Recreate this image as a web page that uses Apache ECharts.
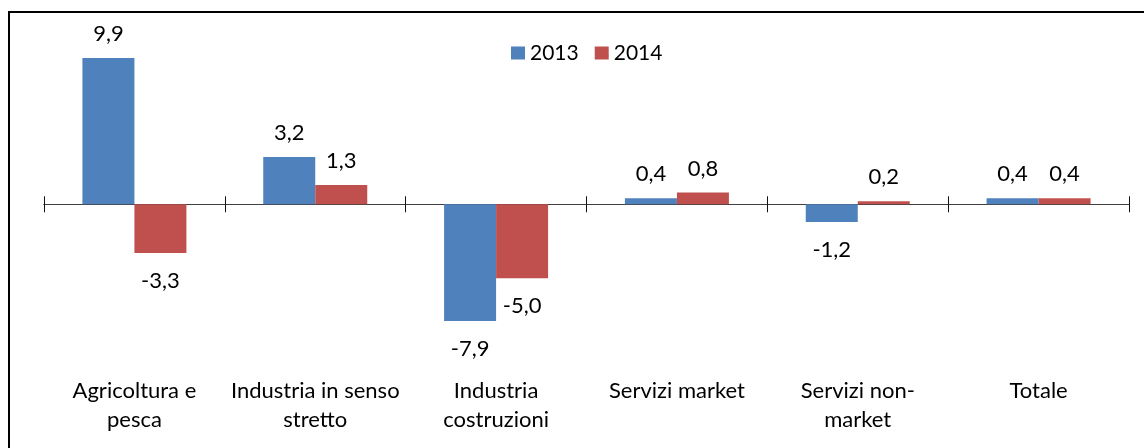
<!DOCTYPE html>
<html>
<head>
<meta charset="utf-8">
<script src="https://cdn.jsdelivr.net/npm/echarts@6/dist/echarts.min.js"></script>
<style>
html,body{margin:0;padding:0;background:#fff;}
#chart{width:1144px;height:448px;}
</style>
</head>
<body>
<div id="chart"></div>
<script>
const categories = ['Agricoltura e\npesca', 'Industria in senso\nstretto', 'Industria\ncostruzioni', 'Servizi market', 'Servizi non-\nmarket', 'Totale'];
const seriesNames = ['2013', '2014'];
const values2013 = [9.9, 3.2, -7.9, 0.4, -1.2, 0.4];
const values2014 = [-3.3, 1.3, -5.0, 0.8, 0.2, 0.4];

const FONT = 'Lato';
const chart = echarts.init(document.getElementById('chart'), null, {renderer: 'canvas'});
const fmt = p => p.value.toFixed(1).replace('.', ',');
function labelFor(v) {
  return {
    show: true,
    position: v >= 0 ? 'top' : 'bottom',
    distance: v >= 0 ? 13 : 17,
    formatter: fmt,
    fontFamily: FONT, fontSize: 22, lineHeight: 22, color: '#000'
  };
}
function mkData(arr) {
  return arr.map(v => ({value: v, label: labelFor(v)}));
}
const axisLineStyle = {color: '#404040', width: 1};
const tickStyle = {color: '#111', width: 1};
chart.setOption({
  animation: false,
  backgroundColor: '#fff',
  textStyle: {fontFamily: FONT},
  grid: {left: 44, right: 15, top: 27, bottom: 96, containLabel: false},
  legend: {
    data: seriesNames,
    left: 511, top: 40, padding: 0,
    itemWidth: 14, itemHeight: 13, itemGap: 16,
    icon: 'rect',
    textStyle: {fontFamily: FONT, fontSize: 21, lineHeight: 26, color: '#000'}
  },
  xAxis: [
    {
      type: 'category', data: categories,
      axisLine: {show: true, onZero: true, onZeroAxisIndex: 0, lineStyle: axisLineStyle},
      axisTick: {show: true, length: 8, inside: false, lineStyle: tickStyle},
      axisLabel: {show: false}
    },
    {
      type: 'category', data: categories, position: 'top',
      axisLine: {show: true, onZero: true, onZeroAxisIndex: 1, lineStyle: axisLineStyle},
      axisTick: {show: true, length: 8, inside: false, lineStyle: tickStyle},
      axisLabel: {show: false}
    },
    {
      type: 'category', data: categories, position: 'bottom',
      axisLine: {show: false, onZero: false},
      axisTick: {show: false},
      axisLabel: {show: true, margin: 24, fontFamily: FONT, fontSize: 22, lineHeight: 29, color: '#000', interval: 0, align: 'center'}
    }
  ],
  yAxis: [
    {type: 'value', min: -10, max: 12, show: false, splitLine: {show: false}},
    {type: 'value', min: -10, max: 12, show: false, splitLine: {show: false}}
  ],
  series: [
    {name: seriesNames[0], type: 'bar', xAxisIndex: 0, yAxisIndex: 0, data: mkData(values2013), barWidth: 52, barGap: '0%', itemStyle: {color: '#4F81BD'}},
    {name: seriesNames[1], type: 'bar', xAxisIndex: 0, yAxisIndex: 0, data: mkData(values2014), barWidth: 52, barGap: '0%', itemStyle: {color: '#C0504D'}}
  ],
  graphic: [{
    type: 'rect', silent: true, z: 100,
    shape: {x: 9, y: 12, width: 1145, height: 450},
    style: {fill: 'none', stroke: '#000', lineWidth: 2}
  }]
});
</script>
</body>
</html>
